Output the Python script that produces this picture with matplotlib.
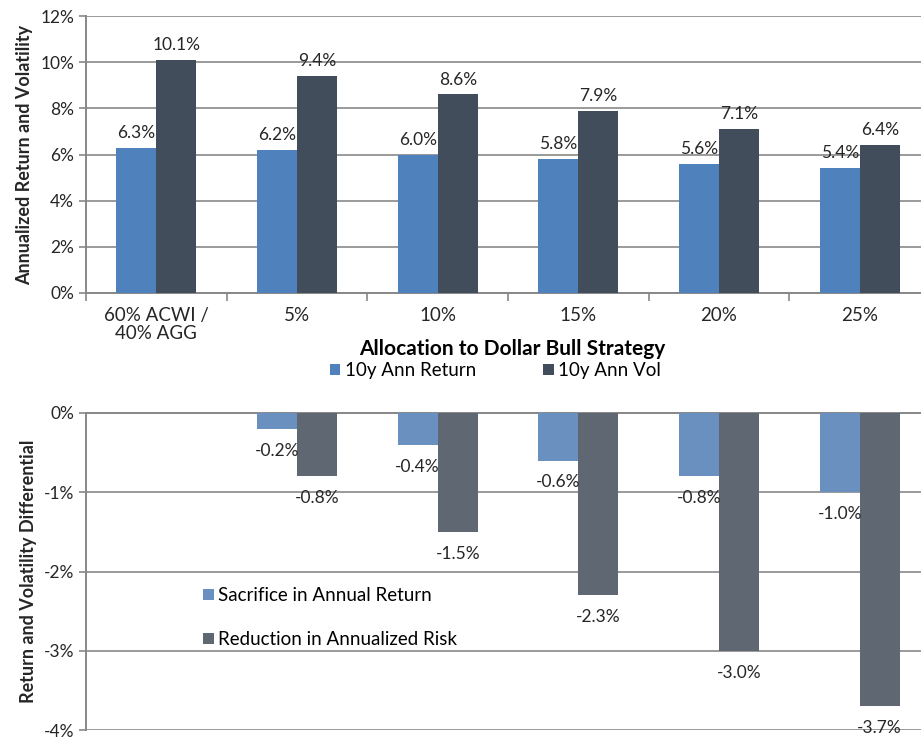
import numpy as np
import matplotlib.pyplot as plt
from matplotlib.ticker import FuncFormatter

plt.rcParams['font.family'] = ['Lato', 'DejaVu Sans']

categories = ['60% ACWI /\n40% AGG', '5%', '10%', '15%', '20%', '25%']
ann_return = [6.3, 6.2, 6.0, 5.8, 5.6, 5.4]
ann_vol = [10.1, 9.4, 8.6, 7.9, 7.1, 6.4]

# differentials vs. the 60/40 benchmark (first category has none)
diff_cats = ['5%', '10%', '15%', '20%', '25%']
ret_sacrifice = [-0.2, -0.4, -0.6, -0.8, -1.0]
risk_reduction = [-0.8, -1.5, -2.3, -3.0, -3.7]

blue = '#4f81bd'
dark = '#414d5a'
blue2 = '#6990be'
dark2 = '#5f6872'
grid_c = '#9a9a9a'
txt = '#262626'

fig = plt.figure(figsize=(9.21, 7.38), dpi=100)
ax1 = fig.add_axes([0.0934, 0.603, 0.9164, 0.3753])
ax2 = fig.add_axes([0.0934, 0.0108, 0.9164, 0.4296])

x = np.arange(len(categories))
w = 0.285

# top chart
b1 = ax1.bar(x - w / 2, ann_return, w, color=blue, label='10y Ann Return', zorder=3)
b2 = ax1.bar(x + w / 2, ann_vol, w, color=dark, label='10y Ann Vol', zorder=3)
ax1.bar_label(b1, labels=[f'{v:.1f}%' for v in ann_return], padding=5, fontsize=12.5, color=txt)
ax1.bar_label(b2, labels=[f'{v:.1f}%' for v in ann_vol], padding=5, fontsize=12.5, color=txt)

ax1.set_xlim(-0.5, len(categories) - 0.5)
ax1.set_ylim(0, 12)
ax1.set_yticks(np.arange(0, 13, 2))
ax1.yaxis.set_major_formatter(FuncFormatter(lambda v, p: f'{v:.0f}%'))
ax1.set_xticks(x)
ax1.set_xticklabels(categories, fontsize=13.5, color=txt, linespacing=1.1)
ax1.set_xticks(np.arange(-0.5, len(categories), 1), minor=True)
ax1.tick_params(axis='x', which='major', length=0, pad=10)
ax1.tick_params(axis='x', which='minor', length=6, color='#888888', width=1.2)
ax1.tick_params(axis='y', length=5, color='#888888', width=1.2, labelsize=12.5, labelcolor=txt)
ax1.grid(axis='y', color=grid_c, linewidth=1.4, zorder=0)
for s in ['top', 'right']:
    ax1.spines[s].set_visible(False)
for s in ['left', 'bottom']:
    ax1.spines[s].set_color('#888888')
    ax1.spines[s].set_linewidth(1.4)
ax1.set_ylabel('Annualized Return and Volatility', fontsize=13, fontweight='bold', color=txt, labelpad=5)
ax1.set_xlabel('Allocation to Dollar Bull Strategy', fontsize=15, fontweight='bold', color='black')
ax1.xaxis.set_label_coords(0.505, -0.165)
ax1.legend(loc='upper center', bbox_to_anchor=(0.485, -0.222), ncol=2, frameon=False,
           fontsize=13.5, handlelength=0.55, handleheight=0.55, handletextpad=0.25,
           columnspacing=3.6, borderaxespad=0)

# bottom chart
xd = np.arange(1, len(categories))
c1 = ax2.bar(xd - w / 2, ret_sacrifice, w, color=blue2, label='Sacrifice in Annual Return', zorder=3)
c2 = ax2.bar(xd + w / 2, risk_reduction, w, color=dark2, label='Reduction in Annualized Risk', zorder=3)
ax2.bar_label(c1, labels=[f'{v:.1f}%' for v in ret_sacrifice], padding=10, fontsize=12.5, color=txt)
ax2.bar_label(c2, labels=[f'{v:.1f}%' for v in risk_reduction], padding=10, fontsize=12.5, color=txt,
              clip_on=False)

ax2.set_xlim(-0.5, len(categories) - 0.5)
ax2.set_ylim(-4, 0)
ax2.set_yticks(np.arange(-4, 1, 1))
ax2.yaxis.set_major_formatter(FuncFormatter(lambda v, p: f'{v:.0f}%'))
ax2.set_xticks([])
ax2.tick_params(axis='y', length=5, color='#888888', width=1.2, labelsize=12.5, labelcolor=txt)
ax2.grid(axis='y', color=grid_c, linewidth=1.4, zorder=0)
for s in ['bottom', 'right']:
    ax2.spines[s].set_visible(False)
for s in ['left', 'top']:
    ax2.spines[s].set_color('#888888')
    ax2.spines[s].set_linewidth(1.4)
ax2.set_ylabel('Return and Volatility Differential', fontsize=13, fontweight='bold', color=txt, labelpad=5)
ax2.legend(loc='upper left', bbox_to_anchor=(0.13, 0.475), frameon=False, fontsize=13.5,
           handlelength=0.55, handleheight=0.55, handletextpad=0.25, labelspacing=1.45,
           borderaxespad=0)

fig.savefig('out.png', dpi=100)
